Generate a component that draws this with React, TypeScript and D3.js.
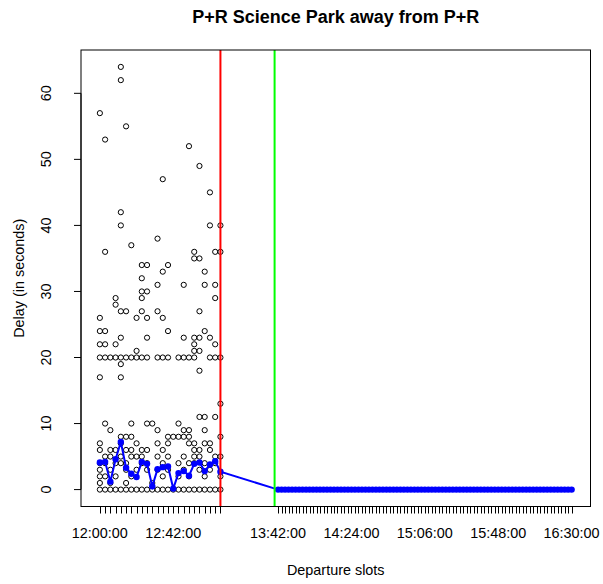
import React, { useEffect, useRef } from 'react';
import * as d3 from 'd3';

// departure slots before the break (every 3 min) and after it (every 2 min)
const earlySlots = [
  '12:00:00', '12:03:00', '12:06:00', '12:09:00', '12:12:00', '12:15:00', '12:18:00', '12:21:00',
  '12:24:00', '12:27:00', '12:30:00', '12:33:00', '12:36:00', '12:39:00', '12:42:00', '12:45:00',
  '12:48:00', '12:51:00', '12:54:00', '12:57:00', '13:00:00', '13:03:00', '13:06:00', '13:09:00',
];

const lateSlots = [
  '13:42:00', '13:44:00', '13:46:00', '13:48:00', '13:50:00', '13:52:00', '13:54:00', '13:56:00', '13:58:00',
  '14:00:00', '14:02:00', '14:04:00', '14:06:00', '14:08:00', '14:10:00', '14:12:00', '14:14:00', '14:16:00', '14:18:00',
  '14:20:00', '14:22:00', '14:24:00', '14:26:00', '14:28:00', '14:30:00', '14:32:00', '14:34:00', '14:36:00', '14:38:00',
  '14:40:00', '14:42:00', '14:44:00', '14:46:00', '14:48:00', '14:50:00', '14:52:00', '14:54:00', '14:56:00', '14:58:00',
  '15:00:00', '15:02:00', '15:04:00', '15:06:00', '15:08:00', '15:10:00', '15:12:00', '15:14:00', '15:16:00', '15:18:00',
  '15:20:00', '15:22:00', '15:24:00', '15:26:00', '15:28:00', '15:30:00', '15:32:00', '15:34:00', '15:36:00', '15:38:00',
  '15:40:00', '15:42:00', '15:44:00', '15:46:00', '15:48:00', '15:50:00', '15:52:00', '15:54:00', '15:56:00', '15:58:00',
  '16:00:00', '16:02:00', '16:04:00', '16:06:00', '16:08:00', '16:10:00', '16:12:00', '16:14:00', '16:16:00', '16:18:00',
  '16:20:00', '16:22:00', '16:24:00', '16:26:00', '16:28:00', '16:30:00',
];

// observed delays per early slot (seconds)
const earlyDelays = [
  [57, 26, 24, 22, 20, 17, 7, 6, 4, 3, 2, 1, 0],
  [53, 36, 24, 22, 20, 10, 5, 4, 2, 0],
  [20, 9, 6, 5, 3, 1, 0],
  [29, 28, 22, 20, 6, 4, 2, 0],
  [64, 62, 42, 40, 27, 23, 20, 19, 17, 8, 7, 5, 4, 0],
  [55, 27, 20, 8, 6, 4, 3, 1, 0],
  [37, 20, 10, 8, 6, 5, 2, 0],
  [26, 21, 20, 7, 5, 3, 0],
  [34, 32, 30, 29, 27, 20, 6, 5, 4, 0],
  [34, 30, 26, 23, 20, 10, 6, 4, 3, 0],
  [10, 1, 0],
  [38, 31, 27, 20, 9, 7, 5, 3, 0],
  [47, 33, 26, 20, 6, 4, 2, 0],
  [34, 24, 20, 8, 7, 5, 3, 0],
  [8, 0],
  [20, 10, 8, 4, 2, 0],
  [31, 23, 20, 9, 8, 5, 3, 0],
  [52, 20, 9, 8, 7, 4, 2, 0],
  [36, 35, 23, 22, 21, 20, 7, 6, 5, 4, 0],
  [49, 35, 27, 23, 21, 18, 11, 6, 5, 3, 0],
  [33, 31, 24, 11, 9, 7, 4, 2, 0],
  [45, 40, 23, 20, 7, 6, 3, 0],
  [36, 31, 29, 22, 20, 11, 5, 4, 0],
  [40, 36, 20, 13, 8, 5, 2, 0],
];

// mean delay per slot
const earlyMeans = [
  4.1, 4.2, 1.2, 4.6, 7.2, 3.3, 2.4, 1.9, 4.2, 3.9, 0.5, 3.1,
  3.4, 3.5, 0.15, 2.5, 2.8, 2.1, 3.9, 4.1, 2.8, 3.8, 4.3, 2.7,
];
const lateMeans = [
  0, 0, 0, 0, 0, 0, 0, 0, 0, 0, 0, 0, 0, 0, 0, 0, 0, 0, 0, 0, 0, 0, 0, 0, 0, 0, 0, 0, 0, 0,
  0, 0, 0, 0, 0, 0, 0, 0, 0, 0, 0, 0, 0, 0, 0, 0, 0, 0, 0, 0, 0, 0, 0, 0, 0, 0, 0, 0, 0, 0,
  0, 0, 0, 0, 0, 0, 0, 0, 0, 0, 0, 0, 0, 0, 0, 0, 0, 0, 0, 0, 0, 0, 0, 0, 0,
];

const tickLabels = ['12:00:00', '12:42:00', '13:42:00', '14:24:00', '15:06:00', '15:48:00', '16:30:00'];
const yTicks = [0, 10, 20, 30, 40, 50, 60];
const redLineTime = '13:09:00';
const greenLineTime = '13:40:00';

const toSec = (s: string) => {
  const [h, m, sec] = s.split(':').map(Number);
  return h * 3600 + m * 60 + sec;
};

const App = () => {
  const ref = useRef<SVGSVGElement>(null);

  useEffect(() => {
    if (!ref.current) return;
    const svg = d3.select(ref.current);
    svg.selectAll('*').remove();

    const left = 81, right = 590.5, top = 50, bottom = 506.5;
    const font = 'Liberation Sans, Arial, sans-serif';

    const allSlots = [...earlySlots, ...lateSlots];
    const allMeans = [...earlyMeans, ...lateMeans];
    const xMin = toSec(allSlots[0]);
    const xMax = toSec(allSlots[allSlots.length - 1]);
    const xPad = (xMax - xMin) * 0.04;
    const x = d3.scaleLinear().domain([xMin - xPad, xMax + xPad]).range([left, right]);

    const yMaxData = d3.max(earlyDelays.flat()) as number;
    const yPad = yMaxData * 0.04;
    const y = d3.scaleLinear().domain([-yPad, yMaxData + yPad]).range([bottom, top]);

    // title
    svg.append('text')
      .attr('x', (left + right) / 2)
      .attr('y', 23)
      .attr('text-anchor', 'middle')
      .style('font-family', font)
      .style('font-weight', 'bold')
      .style('font-size', '18px')
      .text('P+R Science Park away from P+R');

    // raw observations
    const pts = earlyDelays.flatMap((vals, i) => vals.map(v => ({ t: toSec(earlySlots[i]), v })));
    svg.append('g')
      .selectAll('circle')
      .data(pts)
      .enter().append('circle')
      .attr('cx', d => x(d.t))
      .attr('cy', d => y(d.v))
      .attr('r', 2.6)
      .attr('fill', 'none')
      .attr('stroke', 'black')
      .attr('stroke-width', 1);

    // mean line
    const meanData = allSlots.map((s, i) => ({ t: toSec(s), v: allMeans[i] }));
    const line = d3.line<{ t: number; v: number }>().x(d => x(d.t)).y(d => y(d.v));
    svg.append('path')
      .datum(meanData)
      .attr('d', line)
      .attr('fill', 'none')
      .attr('stroke', 'blue')
      .attr('stroke-width', 2);
    svg.append('g')
      .selectAll('circle')
      .data(meanData)
      .enter().append('circle')
      .attr('cx', d => x(d.t))
      .attr('cy', d => y(d.v))
      .attr('r', 3.2)
      .attr('fill', 'blue');

    // marker lines
    svg.append('line')
      .attr('x1', x(toSec(redLineTime))).attr('x2', x(toSec(redLineTime)))
      .attr('y1', top).attr('y2', bottom)
      .attr('stroke', '#ff0000').attr('stroke-width', 2);
    svg.append('line')
      .attr('x1', x(toSec(greenLineTime))).attr('x2', x(toSec(greenLineTime)))
      .attr('y1', top).attr('y2', bottom)
      .attr('stroke', '#00ff00').attr('stroke-width', 2);

    // box
    svg.append('rect')
      .attr('x', left).attr('y', top)
      .attr('width', right - left).attr('height', bottom - top)
      .attr('fill', 'none').attr('stroke', 'black').attr('stroke-width', 1);

    // x axis: a tick per slot, labels where R kept them
    const xAxis = svg.append('g');
    xAxis.append('line')
      .attr('x1', x(xMin)).attr('x2', x(xMax))
      .attr('y1', bottom).attr('y2', bottom)
      .attr('stroke', 'black');
    xAxis.selectAll('line.tick')
      .data(allSlots)
      .enter().append('line')
      .attr('class', 'tick')
      .attr('x1', d => Math.round(x(toSec(d))) + 0.5).attr('x2', d => Math.round(x(toSec(d))) + 0.5)
      .attr('y1', bottom).attr('y2', bottom + 7)
      .attr('stroke', 'black');
    xAxis.selectAll('text')
      .data(tickLabels)
      .enter().append('text')
      .attr('x', d => x(toSec(d)))
      .attr('y', bottom + 31)
      .attr('text-anchor', 'middle')
      .style('font-family', font)
      .style('font-size', '14.4px')
      .text(d => d);

    // y axis
    const yAxis = svg.append('g');
    yAxis.append('line')
      .attr('x1', left).attr('x2', left)
      .attr('y1', y(yTicks[0])).attr('y2', y(yTicks[yTicks.length - 1]))
      .attr('stroke', 'black');
    yAxis.selectAll('line.tick')
      .data(yTicks)
      .enter().append('line')
      .attr('class', 'tick')
      .attr('x1', left - 7).attr('x2', left)
      .attr('y1', d => y(d)).attr('y2', d => y(d))
      .attr('stroke', 'black');
    yAxis.selectAll('text')
      .data(yTicks)
      .enter().append('text')
      .attr('transform', d => `translate(${left - 30.5},${y(d)}) rotate(-90)`)
      .attr('text-anchor', 'middle')
      .style('font-family', font)
      .style('font-size', '14.4px')
      .text(d => d);

    // axis titles
    svg.append('text')
      .attr('x', (left + right) / 2)
      .attr('y', 575)
      .attr('text-anchor', 'middle')
      .style('font-family', font)
      .style('font-size', '14.4px')
      .text('Departure slots');
    svg.append('text')
      .attr('transform', `translate(24,${(top + bottom) / 2}) rotate(-90)`)
      .attr('text-anchor', 'middle')
      .style('font-family', font)
      .style('font-size', '14.4px')
      .text('Delay (in seconds)');
  }, []);

  return (
    <svg
      ref={ref}
      width={603}
      height={584}
      style={{ position: 'absolute', left: 0, top: 0, background: 'white' }}
    />
  );
};

export default App;
